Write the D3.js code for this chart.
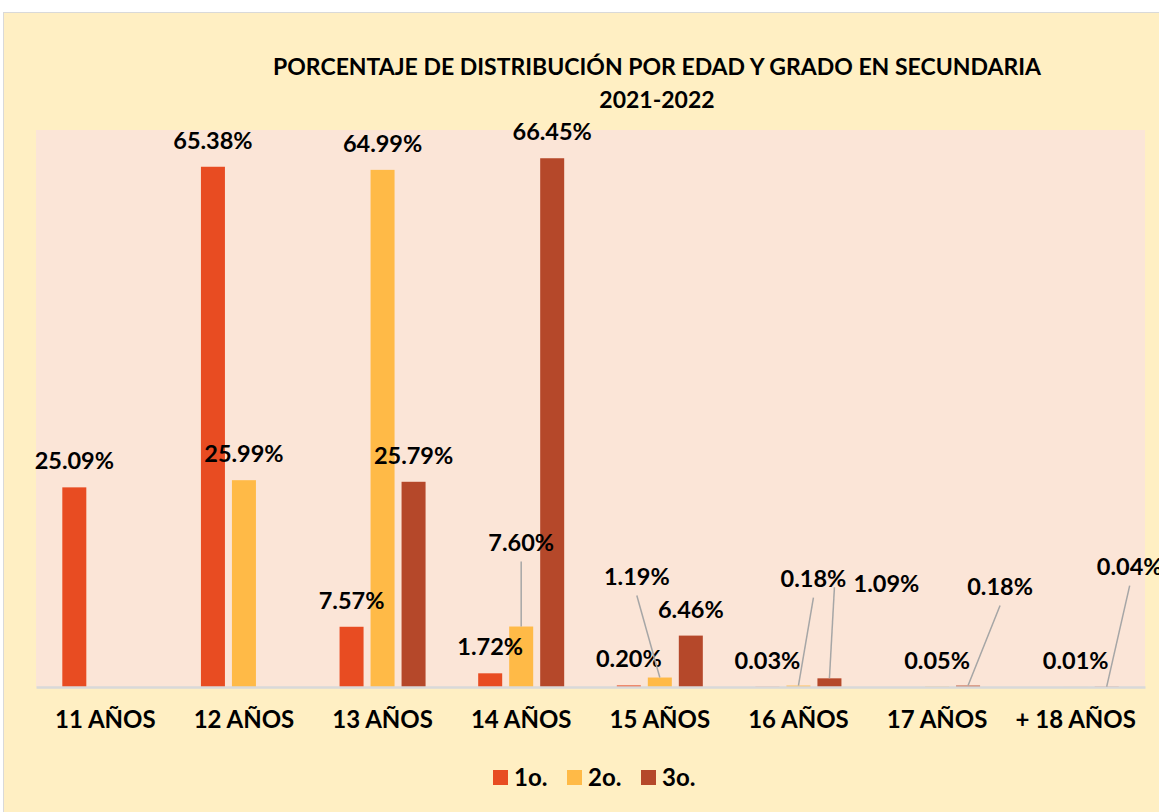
<!DOCTYPE html>
<html>
<head>
<meta charset="utf-8">
<script src="https://cdn.jsdelivr.net/npm/d3@7"></script>
<style>
  body { margin: 0; background: #ffffff; }
  svg { display: block; font-family: Lato, "Open Sans", sans-serif; }
</style>
</head>
<body>
<div id="chart"></div>
<script>
// Datos del gráfico
const categories = ['11 AÑOS', '12 AÑOS', '13 AÑOS', '14 AÑOS', '15 AÑOS', '16 AÑOS', '17 AÑOS', '+ 18 AÑOS'];
const series = ['1o.', '2o.', '3o.'];
const primero = [25.09, 65.38, 7.57, 1.72, 0.20, 0.03, null, null];
const segundo = [null, 25.99, 64.99, 7.60, 1.19, 0.18, 0.05, 0.01];
const tercero = [null, null, 25.79, 66.45, 6.46, 1.09, 0.18, 0.04];
const yDomain = [0, 70];
const titleLines = ['PORCENTAJE DE DISTRIBUCIÓN POR EDAD Y GRADO EN SECUNDARIA', '2021-2022'];

// Colores
const colors = { '1o.': '#E84C22', '2o.': '#FFBA47', '3o.': '#B5482A' };

// Etiquetas movidas a mano (desplazamiento en px) con línea guía
const labelMoves = {
	'14 AÑOS|2o.': [0, -58],
	'15 AÑOS|2o.': [-23, -75],
	'16 AÑOS|2o.': [15, -81],
	'16 AÑOS|3o.': [57, -68],
	'17 AÑOS|3o.': [32, -73],
	'+ 18 AÑOS|3o.': [23, -94],
};

const W = 1159, H = 812;
const plot = { left: 36, right: 1145, top: 130, bottom: 687 };

const svg = d3.select('#chart').append('svg').attr('width', W).attr('height', H);

// Fondo del gráfico
svg.append('rect')
	.attr('x', 3.5).attr('y', 12.5)
	.attr('width', W + 10).attr('height', H)
	.attr('fill', '#FFEFC3')
	.attr('stroke', '#D9D9D9');

// Área de trazado
svg.append('rect')
	.attr('x', plot.left).attr('y', plot.top)
	.attr('width', plot.right - plot.left).attr('height', plot.bottom - plot.top)
	.attr('fill', '#FBE5D7');

// Título
svg.append('text')
	.attr('x', 657).attr('y', 75)
	.attr('text-anchor', 'middle')
	.attr('font-size', 23).attr('font-weight', 'bold')
	.text(titleLines[0]);
svg.append('text')
	.attr('x', 657).attr('y', 108)
	.attr('text-anchor', 'middle')
	.attr('font-size', 23).attr('font-weight', 'bold')
	.text(titleLines[1]);

// Escalas
const x0 = d3.scaleBand().domain(categories).range([plot.left, plot.right]).padding(0);
const bw = x0.bandwidth();
const x1 = d3.scaleBand().domain(series)
	.range([bw / 2 - 43, bw / 2 + 43])
	.paddingInner(7 / 31).paddingOuter(0);
const y = d3.scaleLinear().domain(yDomain).range([plot.bottom, plot.top]);

// Tabla de puntos
const valuesBySeries = { '1o.': primero, '2o.': segundo, '3o.': tercero };
const points = [];
categories.forEach((c, i) => {
	series.forEach((s) => {
		const v = valuesBySeries[s][i];
		if (v !== null) points.push({ cat: c, ser: s, value: v });
	});
});

// Barras
svg.append('g')
	.selectAll('rect')
	.data(points)
	.join('rect')
	.attr('x', (d) => x0(d.cat) + x1(d.ser))
	.attr('y', (d) => y(d.value))
	.attr('width', x1.bandwidth())
	.attr('height', (d) => y(0) - y(d.value))
	.attr('fill', (d) => colors[d.ser]);

// Eje X
const xAxis = svg.append('g')
	.attr('transform', `translate(0,${plot.bottom})`)
	.call(d3.axisBottom(x0).tickSize(0).tickPadding(0));
xAxis.select('.domain').attr('stroke', '#D9D9D9').attr('stroke-width', 2.5);
xAxis.selectAll('text')
	.attr('y', 41).attr('dy', 0)
	.attr('fill', '#000')
	.attr('font-family', 'Lato, sans-serif')
	.attr('font-size', 24).attr('font-weight', 'bold');

// Etiquetas de datos
const labelG = svg.append('g');
points.forEach((d) => {
	const bx = x0(d.cat) + x1(d.ser) + x1.bandwidth() / 2;
	const by = y(d.value);
	const mv = labelMoves[`${d.cat}|${d.ser}`] || [0, 0];
	const lx = bx + mv[0];
	const ly = by - 18 + mv[1];
	if (labelMoves[`${d.cat}|${d.ser}`]) {
		const sx = mv[0] > 45 ? lx - 52 : lx;
		const sy = mv[0] > 45 ? ly - 5 : ly + 11;
		labelG.append('line')
			.attr('x1', sx).attr('y1', sy)
			.attr('x2', bx).attr('y2', by)
			.attr('stroke', '#A6A6A6').attr('stroke-width', 1.5);
	}
	labelG.append('text')
		.attr('x', lx).attr('y', ly)
		.attr('text-anchor', 'middle')
		.attr('font-size', 23.5).attr('font-weight', 'bold')
		.text(d.value.toFixed(2) + '%');
});

// Leyenda
const legendX = [493, 567, 641];
const legend = svg.append('g');
series.forEach((s, i) => {
	legend.append('rect')
		.attr('x', legendX[i]).attr('y', 770)
		.attr('width', 15).attr('height', 15)
		.attr('fill', colors[s]);
	legend.append('text')
		.attr('x', legendX[i] + 21).attr('y', 786)
		.attr('font-size', 24).attr('font-weight', 'bold')
		.text(s);
});
</script>
</body>
</html>
